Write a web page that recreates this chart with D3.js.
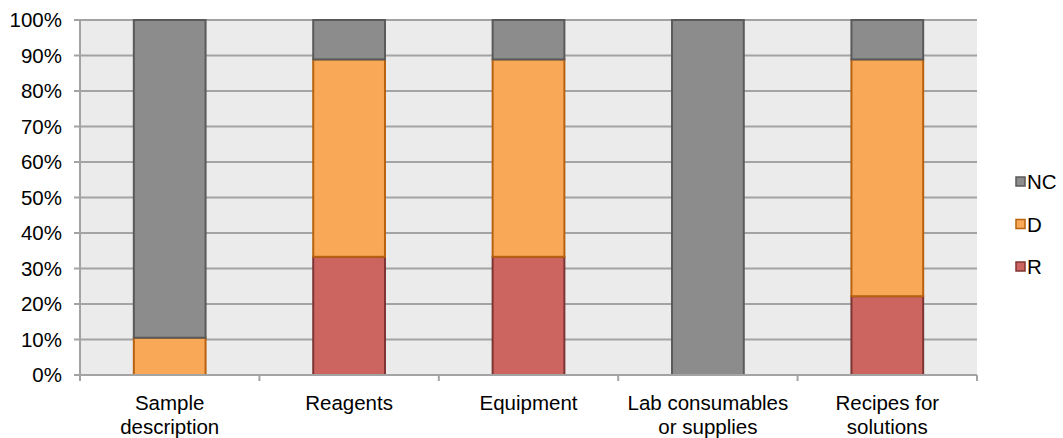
<!DOCTYPE html>
<html><head><meta charset="utf-8">
<script src="https://cdn.jsdelivr.net/npm/d3@7"></script>
<style>body{margin:0;background:#fff}svg{display:block;font-family:"Liberation Sans",Arial,sans-serif}</style>
</head><body><svg id="c" width="1063" height="438"></svg>
<script>
const categories = [["Sample","description"],["Reagents"],["Equipment"],["Lab consumables","or supplies"],["Recipes for","solutions"]];
const seriesNames = ["R","D","NC"];
const R  = [0, 33.3, 33.3, 0, 22.2];
const D  = [10.5, 55.6, 55.6, 0, 66.7];
const NC = [89.5, 11.1, 11.1, 100, 11.1];
const yTicks = [0,10,20,30,40,50,60,70,80,90,100];
const colors = {R:{fill:"#cc6560",stroke:"#7d3533"},D:{fill:"#f9a857",stroke:"#b8620f"},NC:{fill:"#8c8c8c",stroke:"#5a5a5a"}};
const FS = 20.5;

const svg = d3.select("#c");
const m = {l:80,r:977,t:20,b:375};
const x = d3.scaleBand().domain(d3.range(categories.length)).range([m.l,m.r]).paddingInner(0.6).paddingOuter(0.3);
const y = d3.scaleLinear().domain([0,100]).range([m.b,m.t]);

svg.append("rect").attr("x",m.l).attr("y",m.t).attr("width",m.r-m.l).attr("height",m.b-m.t).attr("fill","#ebebeb");
svg.append("g").selectAll("line").data(yTicks.filter(d=>d>0)).join("line")
  .attr("x1",m.l-6).attr("x2",m.r).attr("y1",d=>y(d)).attr("y2",d=>y(d))
  .attr("stroke","#a3a3a3").attr("stroke-width",2);
svg.append("g").selectAll("text").data(yTicks).join("text")
  .attr("x",62).attr("y",d=>y(d)).attr("dy","0.36em").attr("text-anchor","end")
  .attr("font-size",FS).attr("fill","#000").text(d=>d+"%");
svg.append("line").attr("x1",m.l-6).attr("x2",m.l).attr("y1",y(0)).attr("y2",y(0)).attr("stroke","#a3a3a3").attr("stroke-width",2);

const rows = categories.map((c,i)=>({i,R:R[i],D:D[i],NC:NC[i]}));
const stack = d3.stack().keys(seriesNames)(rows);
svg.append("g").selectAll("g").data(stack).join("g")
  .attr("fill",s=>colors[s.key].fill).attr("stroke",s=>colors[s.key].stroke).attr("stroke-width",2)
  .selectAll("rect").data(s=>s.filter(d=>d[1]-d[0]>0)).join("rect")
  .attr("x",d=>x(d.data.i)).attr("width",x.bandwidth())
  .attr("y",d=>y(d[1])).attr("height",d=>y(d[0])-y(d[1]));

svg.append("line").attr("x1",m.l).attr("x2",m.l).attr("y1",m.t).attr("y2",m.b).attr("stroke","#a3a3a3").attr("stroke-width",2);
svg.append("line").attr("x1",m.l).attr("x2",m.r).attr("y1",m.b).attr("y2",m.b).attr("stroke","#a3a3a3").attr("stroke-width",2);
const step = (m.r-m.l)/categories.length;
svg.append("g").selectAll("line").data(d3.range(categories.length+1)).join("line")
  .attr("x1",d=>m.l+d*step).attr("x2",d=>m.l+d*step).attr("y1",m.b).attr("y2",m.b+6)
  .attr("stroke","#a3a3a3").attr("stroke-width",2);

svg.append("g").selectAll("text").data(categories).join("text")
  .attr("x",(d,i)=>x(i)+x.bandwidth()/2).attr("y",410).attr("text-anchor","middle")
  .attr("font-size",FS).attr("fill","#000")
  .selectAll("tspan").data(d=>d).join("tspan")
  .attr("x",function(){return this.parentNode.getAttribute("x");})
  .attr("dy",(d,j)=>j?"1.15em":0).text(d=>d);

const legend = ["NC","D","R"];
const lg = svg.append("g").selectAll("g").data(legend).join("g")
  .attr("transform",(d,i)=>`translate(1016,${182+i*42.5})`);
lg.append("rect").attr("x",0).attr("y",-5).attr("width",9).attr("height",9)
  .attr("fill",d=>colors[d].fill).attr("stroke",d=>colors[d].stroke).attr("stroke-width",1.5);
lg.append("text").attr("x",11).attr("y",0).attr("dy","0.36em").attr("font-size",FS).text(d=>d);
</script></body></html>
